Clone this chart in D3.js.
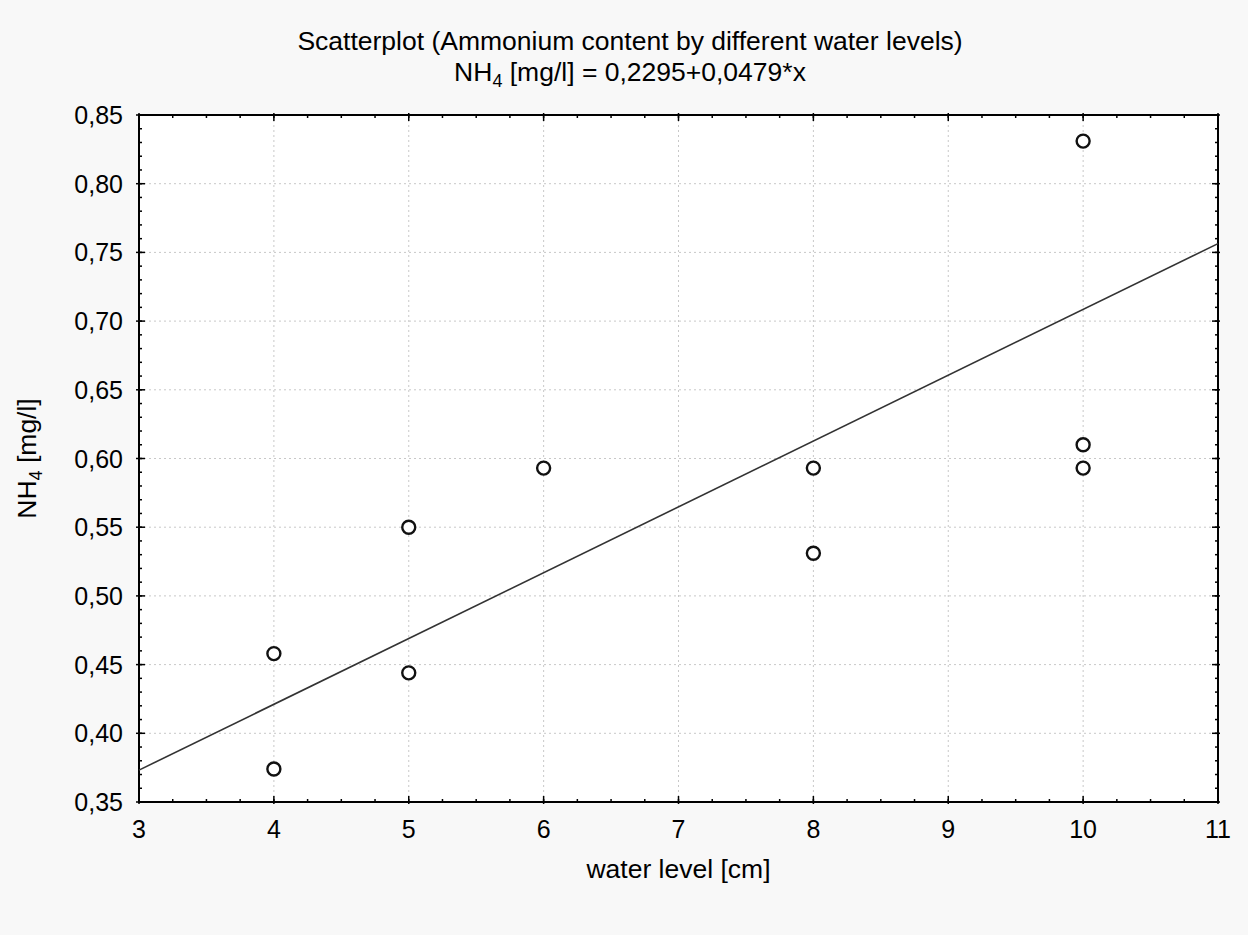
<!DOCTYPE html>
<html>
<head>
<meta charset="utf-8">
<script src="https://cdn.jsdelivr.net/npm/d3@7"></script>
<style>
  body { margin: 0; background: #f8f8f8; }
  svg { font-family: "Liberation Sans", Arial, sans-serif; }
  .grid line { stroke: #c8c8c8; stroke-dasharray: 2,3; stroke-width: 1; }
</style>
</head>
<body>
<div id="chart"></div>
<script>
// water level [cm] and NH4 [mg/l]
const waterLevel = [4, 4, 5, 5, 6, 8, 8, 10, 10, 10];
const ammonium   = [0.458, 0.374, 0.550, 0.444, 0.593, 0.593, 0.531, 0.831, 0.610, 0.593];
// regression from the subtitle
const intercept = 0.2295;
const slope = 0.0479;
const xTicks = [3, 4, 5, 6, 7, 8, 9, 10, 11];
const yTicks = [0.35, 0.40, 0.45, 0.50, 0.55, 0.60, 0.65, 0.70, 0.75, 0.80, 0.85];

const width = 1248, height = 935;
const margin = { left: 139, right: 30, top: 115, bottom: 133 };

const svg = d3.select('#chart').append('svg')
    .attr('width', width)
    .attr('height', height);

const x = d3.scaleLinear().domain([3, 11]).range([margin.left, width - margin.right]);
const y = d3.scaleLinear().domain([0.35, 0.85]).range([height - margin.bottom, margin.top]);

const fmt = d => d3.format('.2f')(d).replace('.', ',');

svg.append('rect')
    .attr('x', x(3)).attr('y', y(0.85))
    .attr('width', x(11) - x(3)).attr('height', y(0.35) - y(0.85))
    .attr('fill', '#fff');

// grid
let grid = svg.append('g').attr('class', 'grid');
grid.selectAll('line.v').data(xTicks.slice(1, -1)).enter().append('line')
    .attr('x1', d => x(d)).attr('x2', d => x(d))
    .attr('y1', y(0.85)).attr('y2', y(0.35));
grid.selectAll('line.h').data(yTicks.slice(1, -1)).enter().append('line')
    .attr('y1', d => y(d)).attr('y2', d => y(d))
    .attr('x1', x(3)).attr('x2', x(11));

// minor ticks
const xMinor = d3.range(3, 11.001, 0.25);
const yMinor = d3.range(0.35, 0.8501, 0.01);
let ticks = svg.append('g').attr('stroke', '#000').attr('stroke-width', 1.5);
ticks.selectAll('line.xb').data(xMinor).enter().append('line')
    .attr('x1', d => x(d)).attr('x2', d => x(d))
    .attr('y1', y(0.35)).attr('y2', y(0.35) - 3);
ticks.selectAll('line.xt').data(xMinor).enter().append('line')
    .attr('x1', d => x(d)).attr('x2', d => x(d))
    .attr('y1', y(0.85)).attr('y2', y(0.85) + 3);
ticks.selectAll('line.yl').data(yMinor).enter().append('line')
    .attr('y1', d => y(d)).attr('y2', d => y(d))
    .attr('x1', x(3)).attr('x2', x(3) + 3);
ticks.selectAll('line.yr').data(yMinor).enter().append('line')
    .attr('y1', d => y(d)).attr('y2', d => y(d))
    .attr('x1', x(11)).attr('x2', x(11) - 3);

// major ticks
ticks.selectAll('line.xbm').data(xTicks).enter().append('line')
    .attr('x1', d => x(d)).attr('x2', d => x(d))
    .attr('y1', y(0.35) + 2).attr('y2', y(0.35) - 6);
ticks.selectAll('line.xtm').data(xTicks).enter().append('line')
    .attr('x1', d => x(d)).attr('x2', d => x(d))
    .attr('y1', y(0.85) - 2).attr('y2', y(0.85) + 6);
ticks.selectAll('line.ylm').data(yTicks).enter().append('line')
    .attr('y1', d => y(d)).attr('y2', d => y(d))
    .attr('x1', x(3) - 3).attr('x2', x(3) + 6);
ticks.selectAll('line.yrm').data(yTicks).enter().append('line')
    .attr('y1', d => y(d)).attr('y2', d => y(d))
    .attr('x1', x(11) + 2).attr('x2', x(11) - 6);

// frame
svg.append('rect')
    .attr('x', x(3)).attr('y', y(0.85))
    .attr('width', x(11) - x(3)).attr('height', y(0.35) - y(0.85))
    .attr('fill', 'none').attr('stroke', '#000').attr('stroke-width', 2);

// tick labels
svg.append('g').selectAll('text').data(xTicks).enter().append('text')
    .attr('x', d => x(d)).attr('y', y(0.35) + 36)
    .attr('text-anchor', 'middle').attr('font-size', 25)
    .text(d => d);
svg.append('g').selectAll('text').data(yTicks).enter().append('text')
    .attr('x', x(3) - 16).attr('y', d => y(d) + 9)
    .attr('text-anchor', 'end').attr('font-size', 25)
    .text(fmt);

// regression line
svg.append('line')
    .attr('x1', x(3)).attr('y1', y(intercept + slope * 3))
    .attr('x2', x(11)).attr('y2', y(intercept + slope * 11))
    .attr('stroke', '#333').attr('stroke-width', 1.6);

// points
svg.append('g').selectAll('circle').data(waterLevel).enter().append('circle')
    .attr('cx', d => x(d))
    .attr('cy', (d, i) => y(ammonium[i]))
    .attr('r', 6.5)
    .attr('fill', '#fff').attr('stroke', '#111').attr('stroke-width', 2.4);

// titles
svg.append('text').attr('x', 630).attr('y', 50)
    .attr('text-anchor', 'middle').attr('font-size', 26.5)
    .text('Scatterplot (Ammonium content by different water levels)');
let sub = svg.append('text').attr('x', 630).attr('y', 81)
    .attr('text-anchor', 'middle').attr('font-size', 26.5);
sub.append('tspan').text('NH');
sub.append('tspan').attr('font-size', 18).attr('dy', 6).text('4');
sub.append('tspan').attr('dy', -6).text(' [mg/l] = 0,2295+0,0479*x');

svg.append('text').attr('x', (x(3) + x(11)) / 2).attr('y', 878)
    .attr('text-anchor', 'middle').attr('font-size', 26.5)
    .text('water level [cm]');
let yl = svg.append('text')
    .attr('transform', `translate(36,${(y(0.35) + y(0.85)) / 2}) rotate(-90)`)
    .attr('text-anchor', 'middle').attr('font-size', 26.5);
yl.append('tspan').text('NH');
yl.append('tspan').attr('font-size', 18).attr('dy', 6).text('4');
yl.append('tspan').attr('dy', -6).text(' [mg/l]');
</script>
</body>
</html>
